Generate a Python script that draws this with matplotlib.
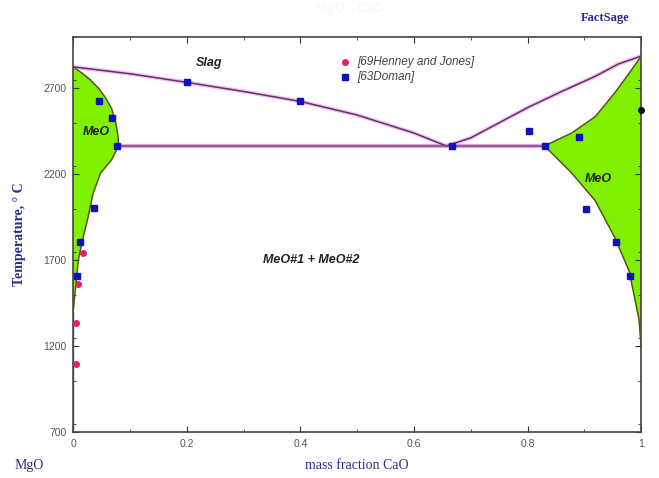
import matplotlib
matplotlib.use("Agg")
import matplotlib.pyplot as plt
from matplotlib.ticker import MultipleLocator

# liquidus (slag boundary), MgO side and CaO side of the eutectic
liq_left_x = [0.0, 0.1, 0.2, 0.3, 0.4, 0.5, 0.6, 0.657]
liq_left_T = [2825, 2785, 2735, 2682, 2624, 2545, 2440, 2365]
liq_right_x = [0.657, 0.7, 0.75, 0.8, 0.86, 0.919, 0.96, 1.0]
liq_right_T = [2365, 2412, 2500, 2588, 2682, 2770, 2842, 2888]

# MgO-rich solid solution (left)
sol1_up_x = [0.0, 0.015, 0.03, 0.045, 0.058, 0.068, 0.075, 0.079, 0.08]
sol1_up_T = [2825, 2790, 2750, 2700, 2640, 2580, 2500, 2420, 2365]
sol1_lo_x = [0.08, 0.067, 0.048, 0.035, 0.026, 0.016, 0.009, 0.003, 0.0]
sol1_lo_T = [2365, 2282, 2206, 2088, 1947, 1812, 1700, 1500, 1400]

# CaO-rich solid solution (right)
sol2_up_x = [0.83, 0.878, 0.919, 0.954, 0.984, 1.0]
sol2_up_T = [2365, 2441, 2535, 2676, 2812, 2888]
sol2_lo_x = [0.83, 0.878, 0.919, 0.954, 0.979, 0.996, 1.0]
sol2_lo_T = [2365, 2206, 2047, 1829, 1635, 1359, 1194]

eut_x = [0.08, 0.83]
eut_T = [2365, 2365]

# experimental points
henney_x = [0.018, 0.009, 0.005, 0.005]
henney_T = [1741, 1559, 1335, 1094]
doman_x = [0.046, 0.069, 0.078, 0.037, 0.012, 0.007, 0.2, 0.4, 0.667,
           0.802, 0.83, 0.89, 0.903, 0.956, 0.98]
doman_T = [2624, 2529, 2365, 2006, 1806, 1606, 2735, 2624, 2365,
           2453, 2365, 2418, 2000, 1806, 1606]

navy = "#2b2b8c"
green = "#80f000"
purple = "#6e2a6e"
halo = "#ecc8ec"
edge = "#5a4a2a"

fig = plt.figure(figsize=(6.59, 4.78), dpi=100)
ax = fig.add_axes([0.111, 0.096, 0.862, 0.827])

# green single-phase regions
ax.fill(sol1_up_x + sol1_lo_x, sol1_up_T + sol1_lo_T, color=green, zorder=1)
ax.fill(sol2_up_x[::-1] + sol2_lo_x + [1.0], sol2_up_T[::-1] + sol2_lo_T + [2888],
        color=green, zorder=1)

for xs, ts in [(sol1_up_x, sol1_up_T), (sol1_lo_x, sol1_lo_T),
               (sol2_up_x, sol2_up_T), (sol2_lo_x, sol2_lo_T)]:
    ax.plot(xs, ts, color=edge, lw=1.0, zorder=3)
ax.plot([0, 0], [700, 1400], color=edge, lw=1.0, zorder=3)
ax.plot([1, 1], [700, 1194], color=edge, lw=1.0, zorder=3)

# liquidus with soft halo
for xs, ts in [(liq_left_x, liq_left_T), (liq_right_x, liq_right_T)]:
    ax.plot(xs, ts, color=halo, lw=3.0, zorder=2, solid_capstyle="round")
    ax.plot(xs, ts, color=purple, lw=1.1, zorder=3)
ax.plot(eut_x, eut_T, color="#d8a8d8", lw=3.0, zorder=2)
ax.plot(eut_x, eut_T, color="#8a4a8a", lw=1.2, zorder=3)

ax.plot(henney_x, henney_T, "o", color="#e0206a", ms=4, zorder=5, ls="none")
ax.plot(doman_x, doman_T, "s", color="#1010c0", ms=4.5, zorder=5, ls="none")
ax.plot([1.0], [2576], "o", color="black", ms=4, zorder=6, clip_on=False)

# legend drawn as markers + text
ax.plot([0.478], [2855], "o", color="#e0206a", ms=4)
ax.plot([0.478], [2765], "s", color="#1010c0", ms=4.5)
ax.text(0.5, 2855, "[69Henney and Jones]", style="italic", fontsize=8.5,
        color="#444444", va="center", family="Liberation Sans")
ax.text(0.5, 2765, "[63Doman]", style="italic", fontsize=8.5,
        color="#444444", va="center", family="Liberation Sans")

lab = dict(fontsize=9, fontweight="bold", style="italic", color="#222222",
           family="Liberation Sans", ha="center", va="center")
ax.text(0.24, 2850, "Slag", **lab)
ax.text(0.04, 2445, "MeO", **lab)
ax.text(0.925, 2175, "MeO", **lab)
ax.text(0.42, 1700, "MeO#1 + MeO#2", **lab)

ax.set_xlim(0, 1)
ax.set_ylim(700, 3000)
ax.set_xticks([0, 0.2, 0.4, 0.6, 0.8, 1.0])
ax.set_xticklabels(["0", "0.2", "0.4", "0.6", "0.8", "1"])
ax.xaxis.set_minor_locator(MultipleLocator(0.1))
ax.set_yticks([700, 1200, 1700, 2200, 2700])
ax.yaxis.set_minor_locator(MultipleLocator(250))
ax.tick_params(which="both", direction="in", top=True, right=True,
               labelsize=7.5, labelcolor="#555555", color="#333333")
ax.tick_params(which="major", length=4, pad=5)
ax.tick_params(which="minor", length=2.5)
for lbl in ax.get_xticklabels() + ax.get_yticklabels():
    lbl.set_family("Liberation Sans")
for s in ax.spines.values():
    s.set_color("#444444")
    s.set_linewidth(1.2)

ax.set_xlabel("mass fraction CaO", family="Liberation Serif", fontsize=10,
              color=navy, labelpad=7)
ax.set_ylabel("Temperature, \u00b0 C", family="Liberation Serif", fontsize=10,
              color=navy, fontweight="bold", labelpad=12)
fig.text(0.045, 0.027, "MgO", family="Liberation Serif", fontsize=10, color=navy,
         ha="center", va="center")

fig.text(0.53, 0.995, "MgO - CaO", fontsize=9, color="#f6f6f6", ha="center", va="top")
fig.text(0.918, 0.963, "FactSage", family="Liberation Serif", fontsize=9,
         fontweight="bold", color=navy, ha="center", va="center")

fig.savefig("out.png", dpi=100)
